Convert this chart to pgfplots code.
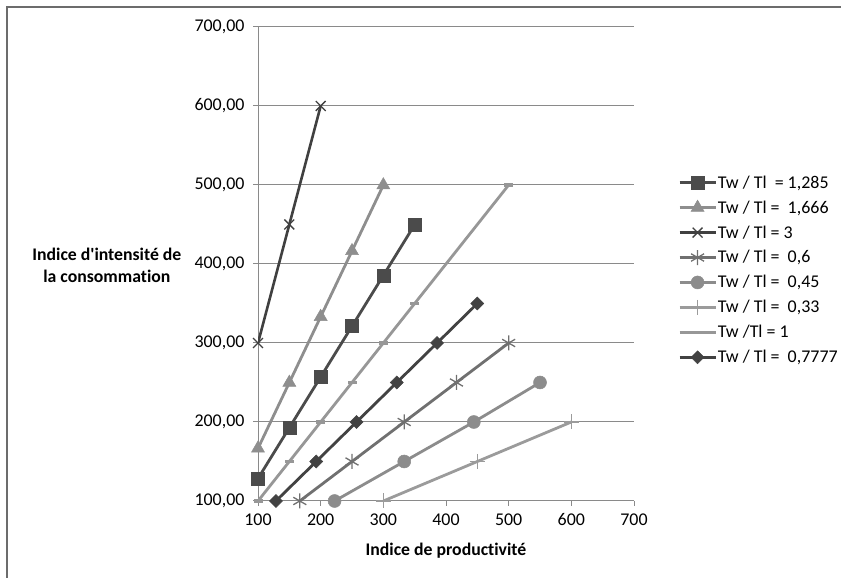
\documentclass[border=0pt]{standalone}
\usepackage{fontspec}
\setmainfont{Carlito}[Ligatures={TeXOff,CommonOff}]
\usepackage{pgfplots}
\pgfplotsset{compat=1.18}

\definecolor{gridc}{HTML}{8A8A8A}
\definecolor{sqc}{HTML}{4B4B4B}
\definecolor{tric}{HTML}{8E8E8E}
\definecolor{xc}{HTML}{404040}
\definecolor{astc}{HTML}{707070}
\definecolor{circc}{HTML}{8C8C8C}
\definecolor{plusc}{HTML}{9B9B9B}
\definecolor{onec}{HTML}{979797}
\definecolor{diac}{HTML}{424242}

\begin{document}
\begin{tikzpicture}[x=1bp,y=1bp]
\path[use as bounding box] (0,0) rectangle (841,578);
% chart area border (left and top only visible)
\draw[gray!85!black, line width=2bp] (6.5,0) -- (6.5,571) -- (841,571);

\begin{axis}[
    at={(258bp,77bp)}, anchor=south west,
    scale only axis,
    width=376bp, height=474bp,
    xmin=100, xmax=700,
    ymin=100, ymax=700,
    xtick={100,200,...,700},
    ytick={100,200,...,700},
    axis x line*=bottom,
    axis y line*=left,
    axis line style={gridc, line width=1bp, -},
    tick align=outside,
    major tick length=5bp,
    tick style={gridc, line width=1bp},
    ymajorgrids,
    grid style={gridc, line width=1bp},
    /pgf/number format/assume math mode=true,
    yticklabel={\pgfmathprintnumber[fixed,fixed zerofill,precision=2,use comma]{\tick}},
    xticklabel={\pgfmathprintnumber[fixed,precision=0]{\tick}},
    tick label style={font=\fontsize{18}{21}\selectfont, text=black},
    yticklabel style={xshift=-5bp},
    xticklabel style={yshift=-4bp},
    xlabel={Indice de productivité},
    ylabel={Indice d'intensité de\\la consommation},
    every axis x label/.style={at={(axis description cs:0.5,-0.105)}, anchor=center,
        font=\fontsize{17.8}{22}\selectfont\bfseries},
    every axis y label/.style={at={(axis description cs:-0.402,0.498)}, anchor=center,
        align=center, font=\fontsize{17.8}{22}\selectfont\bfseries},
    legend style={at={(axis description cs:1.109,0.693)}, anchor=north west,
        draw=none, fill=none, font=\fontsize{18}{21}\selectfont,
        row sep=9bp, nodes={inner sep=1bp}},
    legend cell align=left,
    legend image code/.code={
        \draw[mark repeat=2,mark phase=2,#1]
            plot coordinates {(0bp,0bp) (18bp,0bp) (36bp,0bp)};
    },
    every axis plot/.append style={line width=2.8bp},
]

% Tw / Tl = 1,285
\addplot[sqc, mark=square*, mark size=6.5bp, mark options={solid, line width=0.5bp}] coordinates {
    (100,128.5) (150,192.75) (200,257) (250,321.25) (300,385.5) (350,449.75)
};
\addlegendentry{Tw / Tl \ = 1,285}

% Tw / Tl = 1,666
\addplot[tric, mark=triangle*, mark size=7.5bp, mark options={solid, line width=0.5bp}] coordinates {
    (100,166.6) (150,249.9) (200,333.2) (250,416.5) (300,499.8)
};
\addlegendentry{Tw / Tl = \ 1,666}

% Tw / Tl = 3
\addplot[xc, line width=2.6bp, mark=x, mark size=7bp, mark options={solid, line width=1.3bp}] coordinates {
    (100,300) (150,450) (200,600)
};
\addlegendentry{Tw / Tl = 3}

% Tw / Tl = 0,6
\addplot[astc, mark=asterisk, mark size=7.5bp, mark options={solid, line width=1.3bp}] coordinates {
    (166.7,100) (250,150) (333.3,200) (416.7,250) (500,300)
};
\addlegendentry{Tw / Tl = \ 0,6}

% Tw / Tl = 0,45
\addplot[circc, mark=*, mark size=6.5bp, mark options={solid, line width=0.5bp}] coordinates {
    (222.2,100) (333.3,150) (444.4,200) (550,250)
};
\addlegendentry{Tw / Tl = \ 0,45}

% Tw / Tl = 0,33
\addplot[plusc, mark=+, mark size=7.5bp, mark options={solid, line width=1.2bp}] coordinates {
    (300,100) (450,150) (600,200)
};
\addlegendentry{Tw / Tl = \ 0,33}

% Tw / Tl = 1
\addplot[onec, mark=-, mark size=4.5bp, mark options={solid, line width=3.5bp}] coordinates {
    (100,100) (150,150) (200,200) (250,250) (300,300) (350,350) (500,500)
};
\addlegendentry{Tw /Tl = 1}

% Tw / Tl = 0,7777
\addplot[diac, mark=square*, mark size=4.6bp, mark options={solid, rotate=45, line width=0.5bp}] coordinates {
    (128.6,100) (192.9,150) (257.2,200) (321.5,250) (385.8,300) (450,350)
};
\addlegendentry{Tw / Tl = \ 0,7777}

\end{axis}
\end{tikzpicture}
\end{document}
